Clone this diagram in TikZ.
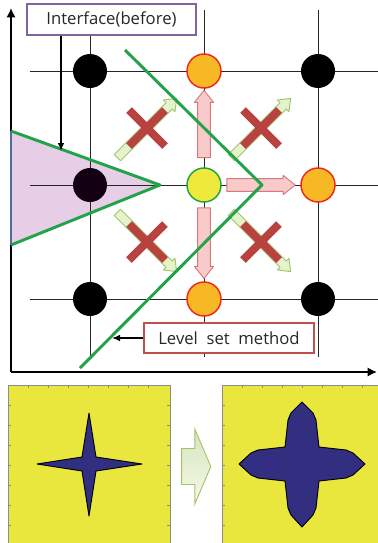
\documentclass[tikz,border=0pt]{standalone}
\usepackage{fontspec}
\newfontfamily\labelfont{Open Sans}
\usetikzlibrary{arrows.meta,calc}

\definecolor{orangefill}{HTML}{F6B825}
\definecolor{orangeline}{HTML}{EE2A1E}
\definecolor{yellowfill}{HTML}{EEE93A}
\definecolor{levelgreen}{HTML}{22A34A}
\definecolor{pinkfill}{HTML}{F9CACA}
\definecolor{pinkline}{HTML}{D9787A}
\definecolor{leaffill}{HTML}{E6F2CC}
\definecolor{leafline}{HTML}{A3C46A}
\definecolor{crossred}{HTML}{B8423F}
\definecolor{regionfill}{HTML}{E6CFE6}
\definecolor{edgeblue}{HTML}{4F6D9B}
\definecolor{boxpurple}{HTML}{8064A2}
\definecolor{boxred}{HTML}{C0504D}
\definecolor{plotyellow}{HTML}{E9E63E}
\definecolor{shapeblue}{HTML}{332F80}

% block arrow between two nodes: style, from, to, start, end, body half width, head half width, head length
\newcommand\blockarrow[8]{%
  \path ($(#2)!#4!(#3)$) coordinate (ba-s)
        ($(#2)!#5!(#3)$) coordinate (ba-e);
  \path ($(ba-e)!#8!(ba-s)$) coordinate (ba-h);
  \path[#1] ($(ba-s)!#6!90:(ba-e)$) -- ($(ba-h)!#6!90:(ba-e)$)
    -- ($(ba-h)!#7!90:(ba-e)$) -- (ba-e) -- ($(ba-h)!#7!-90:(ba-e)$)
    -- ($(ba-h)!#6!-90:(ba-e)$) -- ($(ba-s)!#6!-90:(ba-e)$) -- cycle;
}

\tikzset{
  gridline/.style={draw=black!85, line width=0.75pt},
  axis/.style={line width=2.2pt, -{Latex[length=7pt,width=7pt]}},
  gridpt/.style={circle, minimum size=25.5pt, inner sep=0pt, line width=1.1pt},
  farpt/.style={gridpt, fill=black},
  insidept/.style={gridpt, fill=black!85!violet},
  frontpt/.style={gridpt, fill=orangefill, draw=orangeline},
  startpt/.style={gridpt, fill=yellowfill, draw=levelgreen},
  pinkarrow/.style={fill=pinkfill, draw=pinkline, line width=0.7pt, line join=round},
  leafarrow/.style={fill=leaffill, draw=leafline, line width=0.7pt, line join=round},
  redpart/.style={draw=crossred!90!black, line width=4.6pt},
  xmark/.style={draw=crossred, line width=6pt},
  front/.style={draw=levelgreen, line width=2.2pt, line join=round},
  labelbox/.style={draw, fill=white, line width=1.1pt, inner sep=0pt,
    font=\labelfont\fontsize{12.5}{14}\selectfont, text=black!85},
  pointer/.style={line width=1.6pt, -{Latex[length=6pt,width=5pt]}},
  panel/.style={rectangle, fill=plotyellow, draw=black!45, line width=0.6pt, inner sep=0pt},
  bigarrow/.style={top color=leafline!45, bottom color=leaffill!40, draw=leafline, line width=0.7pt}
}

\begin{document}
\begin{tikzpicture}[x=0.75pt, y=-0.75pt]
\useasboundingbox (0,0) rectangle (378,543);
\clip (0,0) rectangle (378,543);

% Parameters
\def\gx{90} \def\gy{71}
\def\gstep{114}
\def\xarm{18}

% Region inside the interface
\fill[regionfill] (11,131) -- (160,185) -- (11,245) -- cycle;

% Grid lines
\foreach \i in {0,1,2}
{
\draw[gridline] (30,\gy+\i*\gstep) -- (378,\gy+\i*\gstep);
\draw[gridline] (\gx+\i*\gstep,10) -- (\gx+\i*\gstep,357);
}

% Axes
\coordinate (orig) at (11,372);
\coordinate (ytip) at (11,8);
\coordinate (xtip) at (377,372);
\draw[axis] (orig) -- (ytip);
\draw[axis] (orig) -- (xtip);

% Interface (before)
\draw[front] (11,131) -- (160,185) -- (11,245);
\draw[edgeblue, line width=1.8pt] (11,131) -- (11,245);

% Grid points
\node[farpt]    (ptNW) at (\gx,\gy) {};
\node[frontpt]  (ptN)  at (\gx+\gstep,\gy) {};
\node[farpt]    (ptNE) at (\gx+2*\gstep,\gy) {};
\node[insidept] (ptW)  at (\gx,\gy+\gstep) {};
\node[startpt]  (ptC)  at (\gx+\gstep,\gy+\gstep) {};
\node[frontpt]  (ptE)  at (\gx+2*\gstep,\gy+\gstep) {};
\node[farpt]    (ptSW) at (\gx,\gy+2*\gstep) {};
\node[frontpt]  (ptS)  at (\gx+\gstep,\gy+2*\gstep) {};
\node[farpt]    (ptSE) at (\gx+2*\gstep,\gy+2*\gstep) {};

% Allowed moves
\blockarrow{pinkarrow}{ptC}{ptN}{0.24}{0.83}{4.8pt}{7.2pt}{9pt}
\blockarrow{pinkarrow}{ptC}{ptE}{0.2}{0.8}{4.8pt}{7.2pt}{9pt}
\blockarrow{pinkarrow}{ptC}{ptS}{0.2}{0.82}{4.8pt}{7.2pt}{9pt}

% Diagonal moves (crossed out)
\foreach \a/\b in {ptW/ptN, ptC/ptNE, ptW/ptS, ptC/ptSE}
{
\blockarrow{leafarrow}{\a}{\b}{0.24}{0.76}{3.3pt}{6.2pt}{8pt}
\draw[redpart] ($(\a)!0.37!(\b)$) -- ($(\a)!0.64!(\b)$);
\coordinate (mid) at ($(\a)!0.5!(\b)$);
\draw[xmark] ($(mid)+(-\xarm,-\xarm)$) -- ($(mid)+(\xarm,\xarm)$);
\draw[xmark] ($(mid)+(-\xarm,\xarm)$) -- ($(mid)+(\xarm,-\xarm)$);
}

% Level set front
\draw[front] (125,50) -- (262,185) -- (80,368);

% Labels
\node[labelbox, draw=boxpurple, minimum width=126.75pt, minimum height=23.25pt]
  (ifbox) at (111.5,19.5) {Interface(before)};
\coordinate (iftip) at (61,151);
\draw[pointer] (ifbox.south -| iftip) -- (iftip);

\node[labelbox, draw=boxred, minimum width=127.5pt, minimum height=22.5pt]
  (lsbox) at (229,338) {Level\ \ set\ \ method};
\coordinate (lstip) at (112,338);
\draw[pointer] (lsbox.west) -- (lstip);

% Result panels
\node[panel, minimum width=121.5pt, minimum height=122.25pt] (panelA) at (89,466.5) {};
\node[panel, minimum width=120pt, minimum height=122.25pt] (panelB) at (302,466.5) {};
\foreach \k in {1,...,7}
{
\draw[black!45, line width=0.5pt] (8+20*\k,385) -- ++(0,3);
\draw[black!45, line width=0.5pt] (8,385+20*\k) -- ++(3,0);
\draw[black!45, line width=0.5pt] (170,385+20*\k) -- ++(-3,0);
\draw[black!45, line width=0.5pt] (222+20*\k,385) -- ++(0,3);
\draw[black!45, line width=0.5pt] (222,385+20*\k) -- ++(3,0);
}

% Interface before
\begin{scope}[shift={(89,464)}]
\filldraw[fill=shapeblue, draw=black, line width=0.7pt, line join=round]
  (0,-51) -- (7,-7) -- (53,0) -- (7,7) -- (0,52) -- (-7,7) -- (-52,0) -- (-7,-7) -- cycle;
\end{scope}

% Interface after
\begin{scope}[shift={(302,464)}]
\filldraw[fill=shapeblue, draw=black, line width=0.7pt, line join=round]
  (0,-62) -- (11,-51) -- (14,-44) -- (17,-17) -- (44,-14) -- (51,-11) -- (63,0)
  -- (51,11) -- (44,14) -- (17,17) -- (14,44) -- (11,51) -- (0,63)
  -- (-11,51) -- (-14,44) -- (-17,17) -- (-44,14) -- (-51,11) -- (-63,0)
  -- (-51,-11) -- (-44,-14) -- (-17,-17) -- (-14,-44) -- (-11,-51) -- cycle;
\end{scope}

\blockarrow{bigarrow}{panelA.east}{panelB.west}{0.22}{0.79}{13.5pt}{28pt}{12pt}

\end{tikzpicture}
\end{document}
